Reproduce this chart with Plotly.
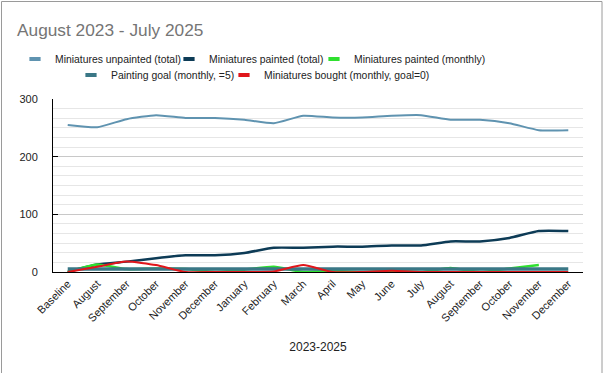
import plotly.graph_objects as go

categories = ["Baseline", "August", "September", "October", "November", "December",
              "January", "February", "March", "April", "May", "June", "July",
              "August", "September", "October", "November", "December"]

unpainted_total = [255, 251, 265, 272, 267, 267, 264, 258, 271, 268, 268, 271, 272, 264, 264, 258, 246, 246]
painted_total = [0, 13, 18, 24, 29, 29, 33, 42, 42, 44, 44, 46, 46, 53, 53, 59, 71, 71]
painted_monthly = [0, 13, 5, 6, 5, 0, 4, 9, 0, 2, 0, 2, 0, 7, 0, 6, 12, None]
painting_goal = [5] * 18
bought_monthly = [0, 9, 18, 12, 0, 0, 0, 1, 12, 0, 0, 2, 0, 0, 0, 0, 0, 0]

names = ["Miniatures unpainted (total)", "Miniatures painted (total)",
         "Miniatures painted (monthly)", "Painting goal (monthly, =5)",
         "Miniatures bought (monthly, goal=0)"]
colors = ["#5f93b0", "#0d3b56", "#2fe02f", "#3a7786", "#e0161b"]
widths = [2, 2.5, 2.5, 3.5, 2]
series = [unpainted_total, painted_total, painted_monthly, painting_goal, bought_monthly]
legend_ids = ["legend", "legend", "legend", "legend2", "legend2"]
legend_entry_widths = [109, 100, 131, 108, 165]

x = list(range(len(categories)))
FONT = "Arial, Liberation Sans, sans-serif"

fig = go.Figure()
for vals, c, w in zip(series, colors, widths):
    fig.add_trace(go.Scatter(x=x, y=vals, mode="lines",
                             line=dict(color=c, width=w, shape="spline", smoothing=0.5),
                             showlegend=False, hoverinfo="skip", connectgaps=False))

# legend-only entries with short thick swatches
for n, c, lg, lw in zip(names, colors, legend_ids, legend_entry_widths):
    fig.add_trace(go.Scatter(x=[None], y=[None], mode="markers", name=n, legend=lg,
                             legendwidth=lw,
                             marker=dict(symbol="line-ew-open", size=8, color=c,
                                         line=dict(color=c, width=4))))

legend_common = dict(orientation="h", xref="container", xanchor="left",
                     yref="container", yanchor="middle",
                     font=dict(family=FONT, size=10.4, color="#222222"),
                     bgcolor="rgba(0,0,0,0)", borderwidth=0,
                     itemclick=False, itemdoubleclick=False)

fig.update_layout(
    width=606, height=373,
    margin=dict(l=53, r=23, t=99, b=101, autoexpand=False),
    paper_bgcolor="white", plot_bgcolor="white",
    font=dict(family=FONT, color="#222222"),
    title=dict(text="August 2023 - July 2025", font=dict(family=FONT, size=17.3, color="#757575"),
               xref="container", x=17 / 606, xanchor="left",
               yref="container", y=1 - 30 / 373, yanchor="middle"),
    legend=dict(legend_common, x=15 / 606, y=1 - 59 / 373),
    legend2=dict(legend_common, x=71 / 606, y=1 - 75 / 373),
    xaxis=dict(range=[-0.5, len(categories) - 0.5], tickmode="array", tickvals=x, ticktext=categories,
               tickangle=-45, tickfont=dict(size=11, color="#222222"), showgrid=False, zeroline=False,
               showline=True, linecolor="black", linewidth=1, ticks="", automargin=False,
               title=dict(text="2023-2025", font=dict(size=12, color="#222222"), standoff=19)),
    yaxis=dict(range=[0, 300], tickmode="linear", tick0=0, dtick=100, automargin=False,
               showgrid=True, gridcolor="#c8c8c8", gridwidth=1, zeroline=False,
               showline=True, linecolor="black", linewidth=1,
               ticks="inside", ticklen=5, tickcolor="black",
               tickfont=dict(size=11, color="#222222"), ticklabelstandoff=12,
               minor=dict(dtick=100 / 6, tick0=0, showgrid=True, gridcolor="#e6e6e6", gridwidth=1, ticks="")),
    yaxis2=dict(overlaying="y", anchor="x", side="left", range=[0, 300], tickmode="linear", tick0=0,
                dtick=100 / 12, ticks="outside", ticklen=3, tickcolor="black", showticklabels=False,
                showgrid=False, zeroline=False, showline=False, automargin=False),
    yaxis3=dict(overlaying="y", anchor="x", side="left", range=[0, 300], tickmode="linear", tick0=0,
                dtick=100 / 12, ticks="inside", ticklen=3, tickcolor="black", showticklabels=False,
                showgrid=False, zeroline=False, showline=False, automargin=False),
    shapes=[dict(type="rect", xref="paper", yref="paper",
                 x0=(1.5 - 53) / 530, x1=(602 - 53) / 530,
                 y0=-2, y1=(272 - 1.5) / 173,
                 line=dict(color="#9a9a9a", width=1), fillcolor="rgba(0,0,0,0)", layer="below")],
)

fig.write_html("out.html", config={"displayModeBar": False},
               post_script="document.body.style.margin='0';")
